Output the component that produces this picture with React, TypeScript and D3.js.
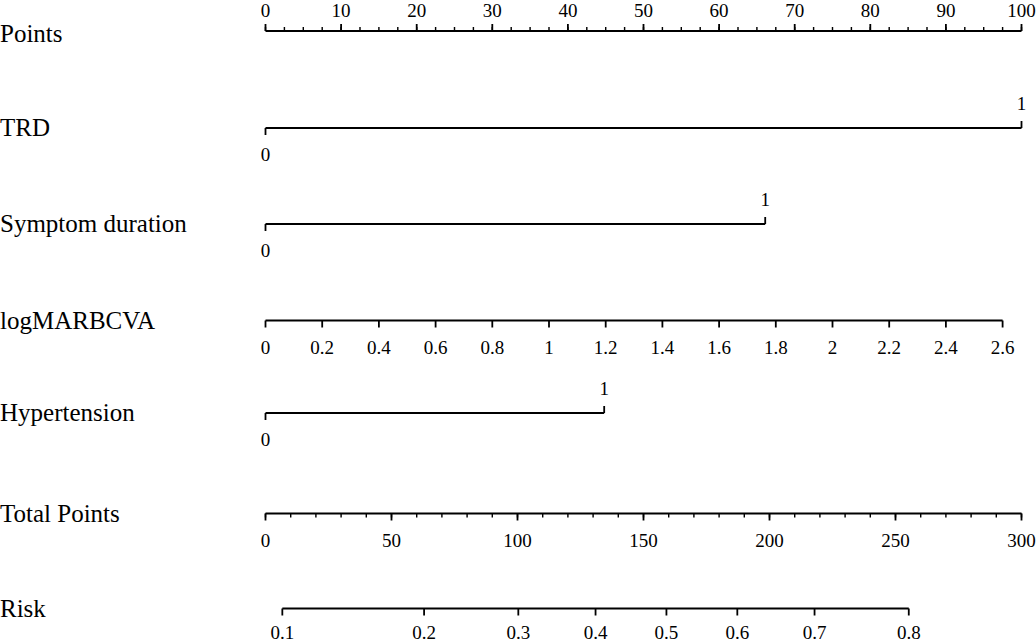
import React from "react";
import * as d3 from "d3";

// ---- data ----
const pointsTicks = d3.range(0, 101, 10);
const pointsMinor = d3.range(0, 100.01, 2.5);
const trdLevels = ["0", "1"];
const trdPoints = [0, 100];
const symptomLevels = ["0", "1"];
const symptomPoints = [0, 66.1];
const logmarTicks = [0, 0.2, 0.4, 0.6, 0.8, 1, 1.2, 1.4, 1.6, 1.8, 2, 2.2, 2.4, 2.6];
const logmarPointsPerUnit = 37.5;
const hyperLevels = ["0", "1"];
const hyperPoints = [0, 44.8];
const totalTicks = d3.range(0, 301, 50);
const totalMinor = d3.range(0, 301, 10);
const riskTicks = [0.1, 0.2, 0.3, 0.4, 0.5, 0.6, 0.7, 0.8];
const riskTotalAt50 = 159.1;
const riskTotalPerLogit = 69.37;

const W = 1036;
const H = 643;
const X0 = 265.5;
const X1 = 1021.5;
const FONT = "'Liberation Serif', 'Times New Roman', serif";
const LABEL_SIZE = 25;
const TICK_SIZE = 19;
const SW = 1.8;

const xPoints = d3.scaleLinear().domain([0, 100]).range([X0, X1]);
const xTotal = d3.scaleLinear().domain([0, 300]).range([X0, X1]);
const logit = (p: number) => Math.log(p / (1 - p));
const riskToTotal = (p: number) => riskTotalAt50 + riskTotalPerLogit * logit(p);

const fmt = (v: number) => String(+v.toFixed(2));

function RowLabel({ y, text }: { y: number; text: string }) {
  return (
    <text x={0} y={y + 8} fontSize={LABEL_SIZE} fontFamily={FONT} fill="#000">
      {text}
    </text>
  );
}

function Categorical({ y, levels, pts }: { y: number; levels: string[]; pts: number[] }) {
  const xs = pts.map((p) => xPoints(p));
  return (
    <g>
      <line x1={d3.min(xs)} x2={d3.max(xs)} y1={y} y2={y} stroke="#000" strokeWidth={SW} />
      {levels.map((lv, i) => {
        const up = i % 2 === 1;
        return (
          <g key={lv}>
            <line x1={xs[i]} x2={xs[i]} y1={y} y2={up ? y - 7 : y + 7} stroke="#000" strokeWidth={SW} />
            <text
              x={xs[i]}
              y={up ? y - 18 : y + 33}
              textAnchor="middle"
              fontSize={TICK_SIZE}
              fontFamily={FONT}
            >
              {lv}
            </text>
          </g>
        );
      })}
    </g>
  );
}

function Continuous({
  y,
  ticks,
  minor,
  toX,
  below = true,
  labelOffset = 33,
}: {
  y: number;
  ticks: number[];
  minor?: number[];
  toX: (v: number) => number;
  below?: boolean;
  labelOffset?: number;
}) {
  const xs = ticks.map(toX);
  const dir = below ? 1 : -1;
  return (
    <g>
      <line x1={d3.min(xs)} x2={d3.max(xs)} y1={y} y2={y} stroke="#000" strokeWidth={SW} />
      {(minor || []).map((m) => (
        <line key={"m" + m} x1={toX(m)} x2={toX(m)} y1={y} y2={y + dir * 4} stroke="#000" strokeWidth={SW * 0.8} />
      ))}
      {ticks.map((t) => (
        <g key={"t" + t}>
          <line x1={toX(t)} x2={toX(t)} y1={y} y2={y + dir * 7} stroke="#000" strokeWidth={SW} />
          <text
            x={toX(t)}
            y={below ? y + labelOffset : y - labelOffset}
            textAnchor="middle"
            fontSize={TICK_SIZE}
            fontFamily={FONT}
          >
            {fmt(t)}
          </text>
        </g>
      ))}
    </g>
  );
}

export default function App() {
  const rows = {
    points: 31,
    trd: 128,
    symptom: 224,
    logmar: 320.5,
    hyper: 413,
    total: 513.5,
    risk: 608.5,
  };
  return (
    <svg
      width={W}
      height={H}
      style={{ position: "absolute", left: 0, top: 0, background: "#fff" }}
    >
      <rect width={W} height={H} fill="#fff" />
      <RowLabel y={rows.points + 3} text="Points" />
      <Continuous y={rows.points} ticks={pointsTicks} minor={pointsMinor} toX={xPoints} below={false} labelOffset={14} />

      <RowLabel y={rows.trd} text="TRD" />
      <Categorical y={rows.trd} levels={trdLevels} pts={trdPoints} />

      <RowLabel y={rows.symptom} text="Symptom duration" />
      <Categorical y={rows.symptom} levels={symptomLevels} pts={symptomPoints} />

      <RowLabel y={rows.logmar} text="logMARBCVA" />
      <Continuous y={rows.logmar} ticks={logmarTicks} toX={(v) => xPoints(v * logmarPointsPerUnit)} />

      <RowLabel y={rows.hyper} text="Hypertension" />
      <Categorical y={rows.hyper} levels={hyperLevels} pts={hyperPoints} />

      <RowLabel y={rows.total} text="Total Points" />
      <Continuous y={rows.total} ticks={totalTicks} minor={totalMinor} toX={xTotal} />

      <RowLabel y={rows.risk} text="Risk" />
      <Continuous y={rows.risk} ticks={riskTicks} toX={(p) => xTotal(riskToTotal(p))} labelOffset={30} />
    </svg>
  );
}
